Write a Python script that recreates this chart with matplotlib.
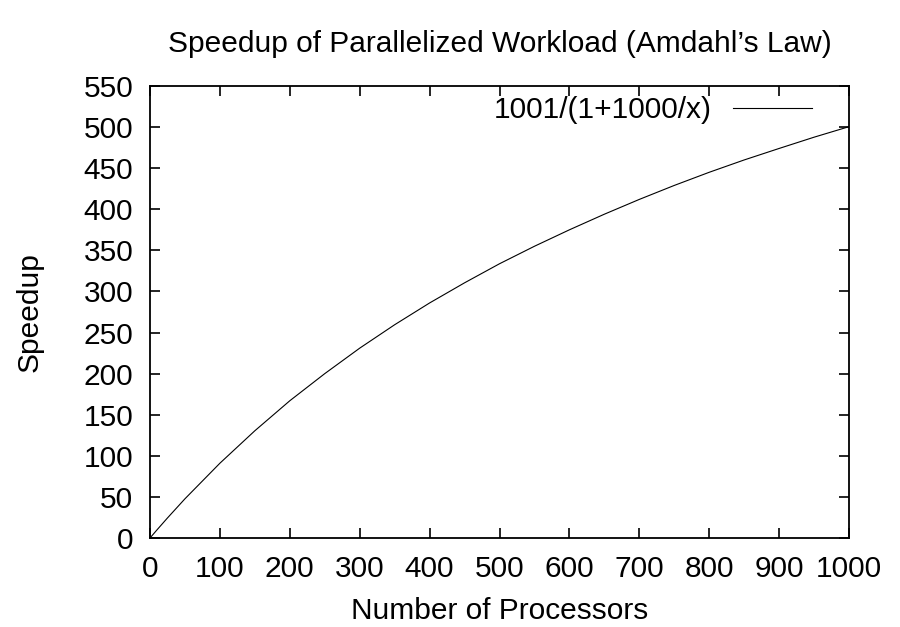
import matplotlib.pyplot as plt

# values
processors = [0, 10, 25, 50, 100, 150, 200, 250, 300, 350, 400, 450,
              500, 550, 600, 650, 700, 750, 800, 850, 900, 950, 1000]
speedup = [0, 9.9, 24.4, 47.7, 91, 130.5, 167, 200, 231, 259.5, 286, 310.5,
           333.7, 355, 375, 394, 412, 429, 445, 460, 474, 487.7, 500.5]
series_label = '1001/(1+1000/x)'
x_ticks = list(range(0, 1001, 100))
y_ticks = list(range(0, 551, 50))

plt.rcParams['font.family'] = ['Liberation Sans', 'DejaVu Sans']
fs = 21.5

fig = plt.figure(figsize=(9, 6.27), dpi=100)
ax = fig.add_axes([150 / 900, 89 / 627, 699 / 900, 452 / 627])

ax.plot(processors, speedup, color='black', linewidth=0.8, label=series_label)

ax.set_xlim(0, 1000)
ax.set_ylim(0, 550)
ax.set_xticks(x_ticks)
ax.set_yticks(y_ticks)
ax.tick_params(direction='in', length=7, width=1.2, labelsize=fs,
               top=True, right=True)
ax.tick_params(axis='y', pad=12)
ax.tick_params(axis='x', pad=12.5)
for spine in ax.spines.values():
    spine.set_linewidth(1.3)

ax.set_title('Speedup of Parallelized Workload (Amdahl\u2019s Law)', fontsize=fs, pad=24.5)
ax.set_xlabel('Number of Processors', fontsize=fs, labelpad=10)
ax.set_ylabel('Speedup', fontsize=fs, labelpad=29)

# gnuplot-style key: text first, sample line after it
ax.legend(loc='upper right', frameon=False, fontsize=fs, markerfirst=False,
          handlelength=2.65, handletextpad=0.7, borderaxespad=0, borderpad=0,
          bbox_to_anchor=(0.947, 0.977))

fig.savefig('out.png', dpi=100)
